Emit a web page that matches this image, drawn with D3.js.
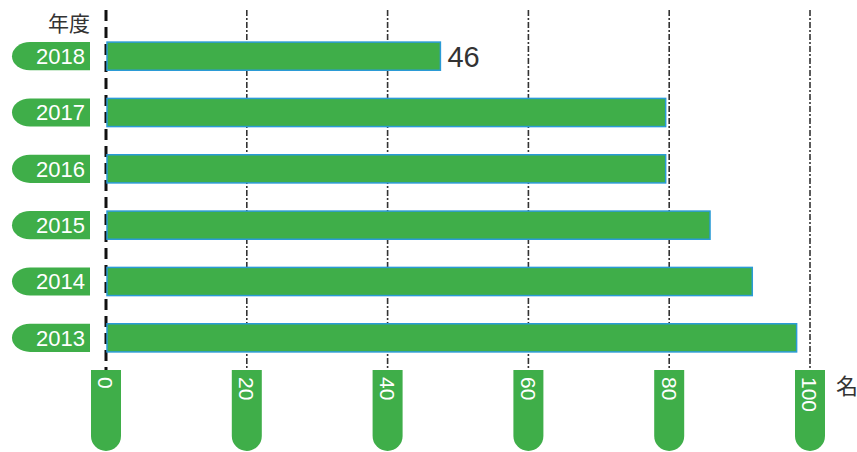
<!DOCTYPE html>
<html>
<head>
<meta charset="utf-8">
<script src="https://cdn.jsdelivr.net/npm/d3@7"></script>
<style>
  body { margin: 0; background: #fff; }
  text { font-family: "Liberation Sans", Arial, sans-serif; }
  .cjk { font-family: "Noto Sans CJK JP", "Noto Sans CJK SC", sans-serif; }
</style>
</head>
<body>
<svg id="chart" width="857" height="452"></svg>
<script>
// data

let years = ['2018', '2017', '2016', '2015', '2014', '2013'];
let values = [47.5, 79.5, 79.5, 85.8, 91.8, 98.1];
let labelled = ['46', null, null, null, null, null];
let ticks = [0, 20, 40, 60, 80, 100];

let green = '#3fae49';
let edge = '#2b9bd6';

let svg = d3.select('#chart');

let x = d3.scaleLinear()
    .domain([0, 100])
    .range([106, 810]);

let y = d3.scaleBand()
    .domain(years)
    .range([28, 366])
    .paddingInner(0.5)
    .paddingOuter(0.25);

// grid lines

svg.selectAll('.grid')
    .data(ticks)
    .enter()
    .append('line')
    .classed('grid', 1)
    .attr('x1', (d) => x(d))
    .attr('x2', (d) => x(d))
    .attr('y1', 10)
    .attr('y2', 370)
    .style('stroke', (d) => d == 0 ? '#111' : '#333')
    .style('stroke-width', (d) => d == 0 ? 3 : 1.6)
    .style('stroke-dasharray', (d) => d == 0 ? '11,6' : '6,2,2,2');

// bars

svg.selectAll('.bar')
    .data(values)
    .enter()
    .append('rect')
    .classed('bar', 1)
    .attr('x', x(0) + 1)
    .attr('y', (d, i) => y(years[i]))
    .attr('width', (d) => x(d) - x(0) - 1)
    .attr('height', y.bandwidth())
    .attr('fill', green)
    .style('stroke', edge)
    .style('stroke-width', 1.5);

// value label

svg.selectAll('.val')
    .data(labelled)
    .enter()
    .filter((d) => d)
    .append('text')
    .classed('val', 1)
    .attr('x', (d, i) => x(values[i]) + 7)
    .attr('y', y(years[0]) + y.bandwidth() / 2)
    .attr('dy', '0.36em')
    .style('font-size', '29px')
    .attr('fill', '#333')
    .text((d) => d);

// year pills

let yearGroup = svg.selectAll('.year')
    .data(years)
    .enter()
    .append('g')
    .classed('year', 1)
    .attr('transform', (d) => `translate(0,${y(d)})`);

yearGroup.append('path')
    .attr('d', () => {
        let h = y.bandwidth(), r = h / 2;
        return `M90,0 L${12 + r + 4},0 A${r + 4},${r} 0 0 0 ${12 + r + 4},${h} L90,${h} Z`;
    })
    .attr('fill', green);

yearGroup.append('text')
    .attr('x', 85)
    .attr('y', y.bandwidth() / 2)
    .attr('dy', '0.36em')
    .attr('text-anchor', 'end')
    .style('font-size', '22px')
    .attr('fill', '#fff')
    .text((d) => d);

// tick pills

let tickGroup = svg.selectAll('.tick')
    .data(ticks)
    .enter()
    .append('g')
    .classed('tick', 1)
    .attr('transform', (d) => `translate(${x(d)},370)`);

tickGroup.append('path')
    .attr('d', 'M-15,0 L15,0 L15,66 A15,15 0 0 1 -15,66 Z')
    .attr('fill', green);

tickGroup.append('text')
    .attr('transform', 'translate(0,7) rotate(90)')
    .attr('dy', '0.36em')
    .attr('text-anchor', 'start')
    .style('font-size', '21px')
    .attr('fill', '#fff')
    .text((d) => d);

// unit labels

svg.append('text')
    .classed('cjk', 1)
    .attr('x', 90)
    .attr('y', 31)
    .attr('text-anchor', 'end')
    .style('font-size', '21px')
    .attr('fill', '#333')
    .text('年度');

svg.append('text')
    .classed('cjk', 1)
    .attr('x', 836)
    .attr('y', 394)
    .style('font-size', '22px')
    .attr('fill', '#333')
    .text('名');
</script>
</body>
</html>
